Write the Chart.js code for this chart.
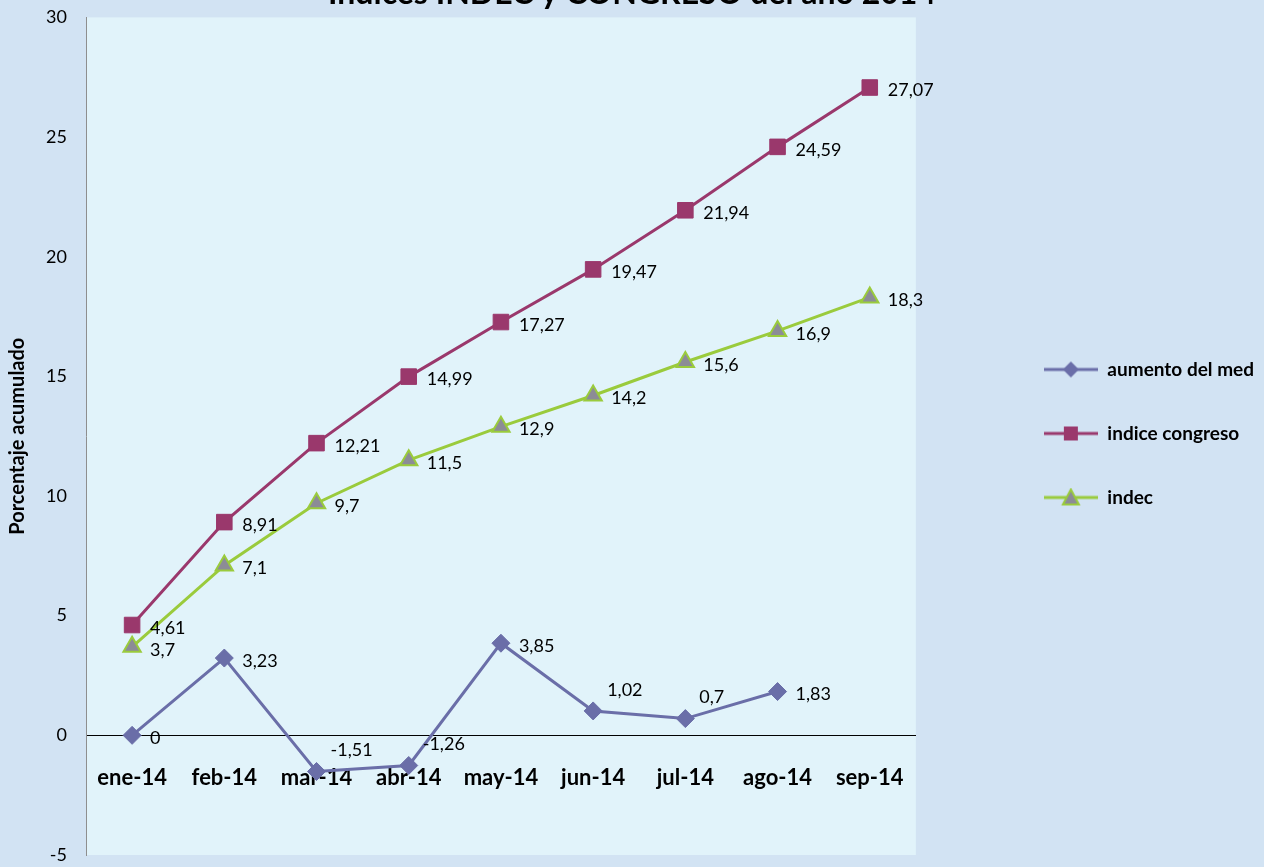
<!DOCTYPE html>
<html>
<head>
<meta charset="utf-8">
<script src="https://cdn.jsdelivr.net/npm/chart.js@4/dist/chart.umd.min.js"></script>
<style>
  body { margin: 0; background: #D2E3F3; }
  canvas { display: block; }
</style>
</head>
<body>
<canvas id="c" width="1264" height="867"></canvas>
<script>
// datos
let meses = ["ene-14", "feb-14", "mar-14", "abr-14", "may-14", "jun-14", "jul-14", "ago-14", "sep-14"]
let aumentoMed = [0, 3.23, -1.51, -1.26, 3.85, 1.02, 0.7, 1.83, null]
let indiceCongreso = [4.61, 8.91, 12.21, 14.99, 17.27, 19.47, 21.94, 24.59, 27.07]
let indec = [3.7, 7.1, 9.7, 11.5, 12.9, 14.2, 15.6, 16.9, 18.3]
let yTicks = [-5, 0, 5, 10, 15, 20, 25, 30]

// donde va cada etiqueta: r = a la derecha, a = arriba
let lugarEtiquetas = [
    ["r", "r", "a", "a", "r", "a", "a", "r", "r"],
    ["r", "r", "r", "r", "r", "r", "r", "r", "r"],
    ["r", "r", "r", "r", "r", "r", "r", "r", "r"]
]

const fuente = "Lato, 'Open Sans', sans-serif"
const azul = "#6A6EA8"
const bordo = "#9A386C"
const verde = "#9ACB3C"
const gris = "#8C8C96"

// icono de leyenda: linea con marcador
function icono(color, tipo, relleno) {
    let cv = document.createElement("canvas")
    cv.width = 54
    cv.height = 20
    let x = cv.getContext("2d")
    x.strokeStyle = color
    x.lineWidth = 3
    x.beginPath()
    x.moveTo(0, 10)
    x.lineTo(54, 10)
    x.stroke()
    x.fillStyle = relleno || color
    x.beginPath()
    if (tipo == "rombo") {
        x.moveTo(27, 2); x.lineTo(35, 10); x.lineTo(27, 18); x.lineTo(19, 10)
    } else if (tipo == "cuadrado") {
        x.rect(20, 3, 14, 14)
    } else {
        x.moveTo(27, 2); x.lineTo(35, 17); x.lineTo(19, 17)
    }
    x.closePath()
    x.fill()
    if (tipo == "triangulo") { x.lineWidth = 2; x.stroke() }
    return cv
}
let iconos = [icono(azul, "rombo"), icono(bordo, "cuadrado"), icono(verde, "triangulo", gris)]

// fondo del area de trazado
const fondo = {
    id: "fondo",
    beforeDraw(chart) {
        let a = chart.chartArea
        let ctx = chart.ctx
        ctx.save()
        ctx.fillStyle = "#E1F3FA"
        ctx.fillRect(a.left, a.top, a.right - a.left, a.bottom - a.top)
        ctx.restore()
    }
}

// etiquetas de valores junto a cada punto
const etiquetas = {
    id: "etiquetas",
    afterDatasetsDraw(chart) {
        let ctx = chart.ctx
        ctx.save()
        ctx.font = "18px " + fuente
        ctx.fillStyle = "#000"
        ctx.textAlign = "left"
        ctx.textBaseline = "middle"
        chart.data.datasets.forEach((ds, i) => {
            let meta = chart.getDatasetMeta(i)
            meta.data.forEach((p, j) => {
                let v = ds.data[j]
                if (v === null || p.skip) return
                let txt = String(v).replace(".", ",")
                if (lugarEtiquetas[i][j] == "a") {
                    ctx.fillText(txt, p.x + 14, p.y - 21)
                } else {
                    ctx.fillText(txt, p.x + 18, p.y + 3)
                }
            })
        })
        ctx.restore()
    }
}

let grafico = new Chart(document.getElementById("c"), {
    type: "line",
    data: {
        labels: meses,
        datasets: [
            {
                label: "aumento del med",
                data: aumentoMed,
                borderColor: azul,
                backgroundColor: azul,
                borderWidth: 3,
                pointStyle: "rectRot",
                pointRadius: 9,
                pointBorderWidth: 1,
                tension: 0
            },
            {
                label: "indice congreso",
                data: indiceCongreso,
                borderColor: bordo,
                backgroundColor: bordo,
                borderWidth: 3,
                pointStyle: "rect",
                pointRadius: 11,
                pointBorderWidth: 1,
                tension: 0
            },
            {
                label: "indec",
                data: indec,
                borderColor: verde,
                backgroundColor: gris,
                borderWidth: 3,
                pointStyle: "triangle",
                pointRadius: 10,
                pointBorderColor: verde,
                pointBorderWidth: 2,
                tension: 0
            }
        ]
    },
    options: {
        responsive: false,
        animation: false,
        layout: { padding: 0 },
        scales: {
            x: {
                offset: true,
                position: { y: 0 },
                grid: { display: false, drawTicks: false },
                border: { display: true, color: "#000", width: 1 },
                ticks: {
                    color: "#000",
                    font: { family: fuente, size: 22, weight: "bold" },
                    padding: 29,
                    maxRotation: 0
                }
            },
            y: {
                min: -5,
                max: 30,
                afterBuildTicks: s => { s.ticks = yTicks.map(v => ({ value: v })) },
                // marcas invisibles para separar los numeros del eje
                grid: { display: true, drawOnChartArea: false, drawTicks: true, tickLength: 19, color: "rgba(0,0,0,0)" },
                border: { display: true, color: "#8E8E8E", width: 1 },
                ticks: {
                    color: "#000",
                    font: { family: fuente, size: 18 },
                    padding: 0
                },
                title: {
                    display: true,
                    text: "Porcentaje acumulado",
                    color: "#000",
                    font: { family: fuente, size: 20, weight: "bold" },
                    padding: { top: 6, bottom: 0 }
                },
                afterFit: s => { s.width = 86 }
            },
            hueco: {
                type: "linear",
                position: "right",
                display: true,
                grid: { display: false },
                border: { display: false },
                ticks: { display: false },
                afterFit: s => { s.width = 83 }
            }
        },
        plugins: {
            title: {
                display: true,
                text: "Indices INDEC y CONGRESO del año 2014",
                color: "#000",
                font: { family: fuente, size: 32, weight: "bold" },
                padding: { top: -26, bottom: 5 }
            },
            legend: {
                position: "right",
                maxWidth: 400,
                labels: {
                    usePointStyle: true,
                    pointStyleWidth: 54,
                    padding: 45,
                    color: "#000",
                    font: { family: fuente, size: 19, weight: "bold" },
                    generateLabels: chart => chart.data.datasets.map((ds, i) => ({
                        text: ds.label,
                        pointStyle: iconos[i],
                        datasetIndex: i,
                        fontColor: "#000",
                        lineWidth: 0,
                        hidden: false
                    }))
                }
            },
            tooltip: { enabled: false }
        }
    },
    plugins: [fondo, etiquetas]
})
</script>
</body>
</html>
